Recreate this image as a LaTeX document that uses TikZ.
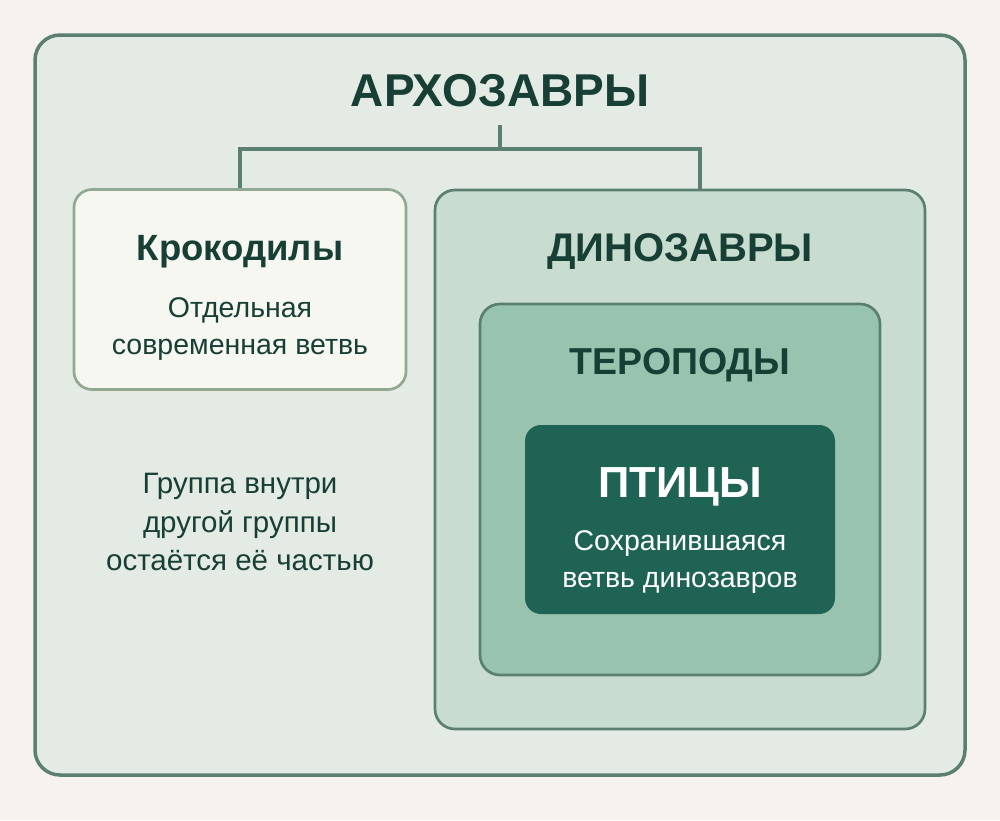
\documentclass[tikz,border=0pt]{standalone}
\usepackage{fontspec}
\setmainfont{Liberation Sans}
\usetikzlibrary{positioning}
\definecolor{paper}{HTML}{F6F3EE}
\definecolor{archfill}{HTML}{E3EBE4}
\definecolor{archline}{HTML}{5B7F71}
\definecolor{crocfill}{HTML}{F7F7F1}
\definecolor{crocline}{HTML}{93A893}
\definecolor{dinofill}{HTML}{C8DDCF}
\definecolor{therofill}{HTML}{98C3AE}
\definecolor{birdfill}{HTML}{1F6354}
\definecolor{ink}{HTML}{173F36}
\tikzstyle{group}=[draw=archline,line width=2.7pt,rounded corners=20pt,inner sep=0pt]
\tikzstyle{branch}=[draw=archline,line width=4pt]
\tikzstyle{heading}=[font=\bfseries,text=ink,inner sep=0pt,anchor=base]
\tikzstyle{caption}=[text=ink,inner sep=0pt,anchor=base]
\newcommand{\fsize}[1]{\fontsize{#1}{#1}\selectfont}

\begin{document}
\begin{tikzpicture}[x=1pt,y=-1pt]
	\fill[paper] (0,0) rectangle (1000,820);
	\useasboundingbox (0,0) rectangle (1000,820);
	% nested groups
	\node[group,fill=archfill,line width=3.5pt,rounded corners=25pt,minimum width=930pt,minimum height=740pt] (arch) at (500,405) {};
	\node[group,fill=crocfill,draw=crocline,rounded corners=18pt,minimum width=332pt,minimum height=200pt] (croc) at (240,289.5) {};
	\node[group,fill=dinofill,minimum width=490pt,minimum height=539pt] (dino) at (680,459.5) {};
	\node[group,fill=therofill,minimum width=400pt,minimum height=371pt] (thero) at (680,489.5) {};
	\node[group,fill=birdfill,draw=none,rounded corners=16pt,minimum width=310pt,minimum height=189pt] (bird) at (680,519.5) {};
	% tree
	\coordinate (root) at (500,125);
	\coordinate (fork) at (500,149);
	\coordinate (dinotop) at (700,190);
	\draw[branch] (root) -- (fork);
	\draw[branch] (croc.north) |- (fork) -| (dinotop);
	% labels
	\node[heading,font=\bfseries\fsize{46}] (archname) at (500,106) {АРХОЗАВРЫ};
	\node[heading,font=\bfseries\fsize{36.5}] (crocname) at (240,260) {Крокодилы};
	\node[caption,font=\fsize{28.5}] (crocnote1) at (240,317) {Отдельная};
	\node[caption,font=\fsize{28.5}] (crocnote2) at (240,354) {современная ветвь};
	\node[heading,font=\bfseries\fsize{40}] (dinoname) at (680,261) {ДИНОЗАВРЫ};
	\node[heading,font=\bfseries\fsize{37.5}] (theroname) at (680,374) {ТЕРОПОДЫ};
	\node[heading,text=white,font=\bfseries\fsize{43.5}] (birdname) at (680,497) {ПТИЦЫ};
	\node[caption,text=white,font=\fsize{28.5}] (birdnote1) at (680,550) {Сохранившаяся};
	\node[caption,text=white,font=\fsize{28.5}] (birdnote2) at (680,587) {ветвь динозавров};
	\node[caption,font=\fsize{29.5}] (rule1) at (240,493) {Группа внутри};
	\node[caption,font=\fsize{29.5}] (rule2) at (240,532) {другой группы};
	\node[caption,font=\fsize{29.5}] (rule3) at (240,570) {остаётся её частью};
\end{tikzpicture}
\end{document}
